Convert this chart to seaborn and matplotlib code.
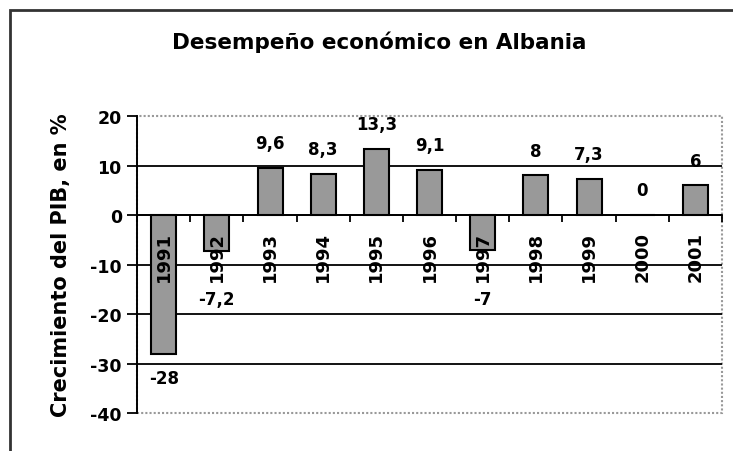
import matplotlib
matplotlib.use("Agg")
import matplotlib.pyplot as plt
import seaborn as sns
import pandas as pd
from matplotlib.patches import Rectangle
from matplotlib.ticker import FixedLocator

years = ["1991", "1992", "1993", "1994", "1995", "1996", "1997", "1998", "1999", "2000", "2001"]
growth = [-28, -7.2, 9.6, 8.3, 13.3, 9.1, -7, 8, 7.3, 0, 6]
value_labels = ["-28", "-7,2", "9,6", "8,3", "13,3", "9,1", "-7", "8", "7,3", "0", "6"]
yticks = [-40, -30, -20, -10, 0, 10, 20]

sns.set_theme(style="white")
plt.rcParams["font.family"] = ["DejaVu Sans"]
plt.rcParams["font.weight"] = "bold"
plt.rcParams["text.color"] = "black"
plt.rcParams["axes.labelcolor"] = "black"
plt.rcParams["xtick.color"] = "black"
plt.rcParams["ytick.color"] = "black"

df = pd.DataFrame({"year": years, "growth": growth})

fig = plt.figure(figsize=(7.33, 4.52), dpi=100)
ax = fig.add_axes([0.187, 0.084, 0.798, 0.657])

sns.barplot(data=df, x="year", y="growth", color="#999999", edgecolor="black",
            linewidth=1.5, width=0.47, saturation=1, ax=ax, zorder=2)

ax.set_ylim(-40, 20)
ax.set_xlim(-0.5, len(years) - 0.5)
ax.set_yticks(yticks)
ax.set_yticklabels([str(t) for t in yticks], fontsize=12.5, fontweight="bold", color="black")
ax.grid(axis="y", color="black", linewidth=1.3)
gl = ax.yaxis.get_gridlines()
gl[0].set_visible(False)
gl[-1].set_visible(False)
ax.set_axisbelow(True)

for s in ["top", "right"]:
    ax.spines[s].set_visible(False)
ax.spines["left"].set_color("black")
ax.spines["left"].set_linewidth(1.4)
ax.spines["bottom"].set_position(("data", 0))
ax.spines["bottom"].set_color("black")
ax.spines["bottom"].set_linewidth(1.3)
ax.add_patch(Rectangle((0, 0), 1, 1, transform=ax.transAxes, fill=False,
                       ls=(0, (1, 1)), ec="#999999", lw=1.5, clip_on=False, zorder=0.5))

ax.tick_params(axis="y", which="major", direction="out", length=7, width=1.3,
               color="black", left=True, pad=4)
ax.xaxis.set_minor_locator(FixedLocator([i - 0.5 for i in range(len(years) + 1)]))
ax.tick_params(axis="x", which="minor", direction="out", length=5, width=1.3,
               color="black", bottom=True)
ax.set_xticks(range(len(years)))
ax.set_xticklabels([])
ax.tick_params(axis="x", which="major", length=0)
ax.set_xlabel("")
ax.set_ylabel("Crecimiento del PIB, en %", fontsize=15, fontweight="bold",
              labelpad=14, color="black")

for i, yr in enumerate(years):
    ax.annotate(yr, (i, 0), xytext=(0, -11.5), textcoords="offset points",
                rotation=90, ha="center", va="top", fontsize=13,
                fontweight="bold", color="black", zorder=5)

for i, (v, lab) in enumerate(zip(growth, value_labels)):
    if v >= 0:
        y = v + 5
    else:
        y = min(v - 4.9, -17)
    ax.text(i, y, lab, ha="center", va="center", fontsize=12, fontweight="bold",
            color="black", zorder=5)

fig.suptitle("Desempeño económico en Albania", x=0.518, y=0.93,
             fontsize=15.5, fontweight="bold", color="black")

fig.patches.append(Rectangle((10 / 733, -0.1), 1.2, 1 - 11 / 452 + 0.1,
                             transform=fig.transFigure, fill=False, ec="#333333",
                             lw=2, figure=fig))

fig.savefig("out.png", dpi=100)
